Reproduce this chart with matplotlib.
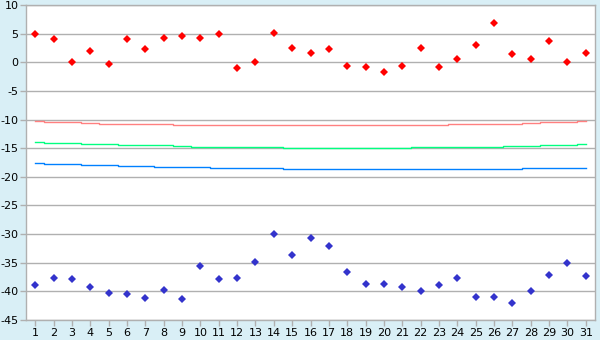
import matplotlib
matplotlib.use("Agg")
import matplotlib.pyplot as plt

plt.rcParams["axes.unicode_minus"] = False

days = list(range(1, 32))

# daily observed values
temp_max = [5.0, 4.0, 0.1, 2.0, -0.35, 4.0, 2.25, 4.2, 4.6, 4.2,
            4.9, -1.05, 0.0, 5.05, 2.45, 1.55, 2.25, -0.7, -0.85, -1.75,
            -0.7, 2.45, -0.85, 0.5, 2.95, 6.8, 1.4, 0.5, 3.65, 0.0, 1.55]
temp_min = [-38.9, -37.7, -37.9, -39.3, -40.3, -40.5, -41.2, -39.8, -41.4, -35.6,
            -37.9, -37.7, -34.9, -30.0, -33.7, -30.7, -32.1, -36.7, -38.8, -38.8,
            -39.3, -40.0, -38.9, -37.7, -41.0, -41.0, -42.1, -40.0, -37.2, -35.1, -37.4]

# daily normals
norm_max = [-10.25, -10.5, -10.5, -10.65, -10.83, -10.83, -10.83, -10.83, -11.0, -11.0,
            -11.0, -11.0, -11.0, -11.0, -11.0, -11.0, -11.0, -11.0, -11.0, -11.0,
            -11.0, -11.0, -11.0, -10.83, -10.83, -10.83, -10.83, -10.65, -10.5, -10.5, -10.25]
norm_mean = [-14.0, -14.15, -14.15, -14.3, -14.3, -14.5, -14.5, -14.5, -14.67, -14.84,
             -14.84, -14.84, -14.84, -14.84, -15.0, -15.0, -15.0, -15.0, -15.0, -15.0,
             -15.0, -14.84, -14.84, -14.84, -14.84, -14.84, -14.67, -14.67, -14.5, -14.5, -14.3]
norm_min = [-17.65, -17.8, -17.8, -18.0, -18.0, -18.15, -18.15, -18.33, -18.33, -18.33,
            -18.5, -18.5, -18.5, -18.5, -18.68, -18.68, -18.68, -18.68, -18.68, -18.68,
            -18.68, -18.68, -18.68, -18.68, -18.68, -18.68, -18.68, -18.5, -18.5, -18.5, -18.5]

yticks = list(range(-45, 11, 5))

fig = plt.figure(figsize=(6, 3.4), dpi=100, facecolor="#d9eff6")
ax = fig.add_axes([26 / 600, 20 / 340, 569 / 600, 315 / 340])
ax.set_facecolor("white")

for y in yticks:
    ax.axhline(y, color="#b0b0b0", lw=1, zorder=1)

ax.plot(days, norm_max, color="#ff8080", lw=1, drawstyle="steps-mid", zorder=2)
ax.plot(days, norm_mean, color="#00ff80", lw=1, drawstyle="steps-mid", zorder=2)
ax.plot(days, norm_min, color="#0080ff", lw=1, drawstyle="steps-mid", zorder=2)

ax.plot(days, temp_max, "D", color="#ff0000", ms=4.5, mew=0, zorder=3)
ax.plot(days, temp_min, "D", color="#3333cc", ms=4.5, mew=0, zorder=3)

ax.set_xlim(0.5, 31.5)
ax.set_ylim(-45, 10)
ax.set_xticks(days)
ax.set_xticklabels([str(d) for d in days])
ax.set_yticks(yticks)

for s in ax.spines.values():
    s.set_color("#b0b0b0")
    s.set_linewidth(1)

ax.tick_params(axis="both", colors="#b0b0b0", labelcolor="black",
               labelsize=8, length=4, width=1, pad=1.5)

fig.savefig("out.png", dpi=100, facecolor=fig.get_facecolor())
